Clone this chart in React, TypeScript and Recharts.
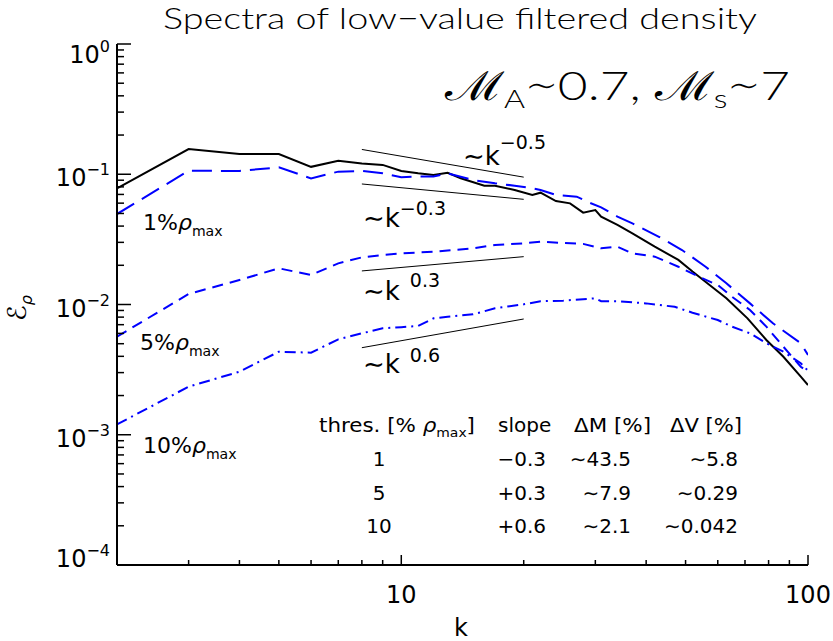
import React from 'react';
import { LineChart, Line, XAxis, YAxis } from 'recharts';

// ---------- data ----------
const kAll = [2, 3, 4, 5, 6, 7, 8, 9, 10, 11, 12, 13, 14, 16, 17, 19, 21, 22, 24, 26, 28, 30, 31, 34, 37, 42, 48, 52, 58, 63, 71, 79, 87, 96, 100];
const eAll = [0.078, 0.156, 0.143, 0.143, 0.114, 0.127, 0.121, 0.118, 0.106, 0.1017, 0.0987, 0.1027, 0.0931, 0.0817, 0.0817, 0.0757, 0.0693, 0.0722, 0.0623, 0.0598, 0.0507, 0.0531, 0.0472, 0.0408, 0.0352, 0.0278, 0.022, 0.0179, 0.0137, 0.01115, 0.00783, 0.00534, 0.00397, 0.00279, 0.00241];

const k1 = [2, 3, 4, 5, 6, 7, 8, 9, 10, 11, 12, 13, 15, 17, 19, 21, 22, 24, 27, 29, 31, 34, 37, 43, 49, 56, 63, 72, 82, 96, 100];
const e1 = [0.0495, 0.1064, 0.106, 0.113, 0.093, 0.1047, 0.106, 0.1017, 0.0948, 0.096, 0.096, 0.1017, 0.0903, 0.0852, 0.0817, 0.078, 0.0757, 0.0693, 0.0673, 0.0605, 0.0557, 0.0472, 0.042, 0.0331, 0.0262, 0.0195, 0.01455, 0.0102, 0.00717, 0.00504, 0.0041];

const k5 = [2, 3, 4, 5, 6, 7, 8, 9, 10, 12, 15, 17, 20, 22, 25, 28, 31, 34, 37, 42, 48, 54, 60, 65, 72, 79, 87, 96, 100];
const e5 = [0.00566, 0.01204, 0.01542, 0.01896, 0.01684, 0.0207, 0.023, 0.024, 0.0247, 0.0254, 0.027, 0.0286, 0.0295, 0.0303, 0.0297, 0.0292, 0.027, 0.0278, 0.0247, 0.0233, 0.0195, 0.0163, 0.0141, 0.01148, 0.00908, 0.00676, 0.00474, 0.00333, 0.00303];

const k10 = [2, 3, 4, 5, 6, 7, 8, 9, 10, 11, 12, 13, 15, 17, 20, 22, 25, 30, 31, 34, 40, 47, 52, 60, 65, 72, 79, 87, 96, 100];
const e10 = [0.0012, 0.00234, 0.00305, 0.00434, 0.00427, 0.0054, 0.00601, 0.00656, 0.0067, 0.00684, 0.00783, 0.00806, 0.0084, 0.00935, 0.01003, 0.0106, 0.0107, 0.01115, 0.0106, 0.0106, 0.0102, 0.0096, 0.00865, 0.0076, 0.00676, 0.00601, 0.00504, 0.00434, 0.00354, 0.0031];

// reference power laws (drawn between k = 8 and k = 20)
const kRef = [8, 20];
const refM05 = [0.155, 0.095];
const refM03 = [0.0842, 0.0642];
const refP03 = [0.0181, 0.0233];
const refP06 = [0.00466, 0.00774];

// ---------- ticks ----------
const xMajor = [10, 100];
const xMajorLabels = ['10', '100'];
const xMinor = [2, 3, 4, 5, 6, 7, 8, 9, 20, 30, 40, 50, 60, 70, 80, 90];
const yMajor = [0.0001, 0.001, 0.01, 0.1, 1];
const yMajorExp = ['\u22124', '\u22123', '\u22122', '\u22121', '0'];
const yMinor = [
  0.0002, 0.0003, 0.0004, 0.0005, 0.0006, 0.0007, 0.0008, 0.0009,
  0.002, 0.003, 0.004, 0.005, 0.006, 0.007, 0.008, 0.009,
  0.02, 0.03, 0.04, 0.05, 0.06, 0.07, 0.08, 0.09,
  0.2, 0.3, 0.4, 0.5, 0.6, 0.7, 0.8, 0.9,
];

// table text
const tableHeads = ['slope', '\u0394M [%]', '\u0394V [%]'];
const tableThres = ['1', '5', '10'];
const tableSlope = ['\u22120.3', '+0.3', '+0.6'];
const tableDM = ['\u223c43.5', '\u223c7.9', '\u223c2.1'];
const tableDV = ['\u223c5.8', '\u223c0.29', '\u223c0.042'];

const FONT = '"DejaVu Sans", sans-serif';
const THIN = 'Lato, "DejaVu Sans", sans-serif';
const BLUE = '#0000ff';

type Row = { k: number; [key: string]: number | undefined };
function buildTable(): Row[] {
  const series: [string, number[], number[]][] = [
    ['all', kAll, eAll],
    ['p1', k1, e1],
    ['p5', k5, e5],
    ['p10', k10, e10],
    ['rm05', kRef, refM05],
    ['rm03', kRef, refM03],
    ['rp03', kRef, refP03],
    ['rp06', kRef, refP06],
  ];
  const map = new Map<number, Row>();
  for (const [key, ks, vs] of series) {
    ks.forEach((k, i) => {
      if (!map.has(k)) map.set(k, { k });
      (map.get(k) as Row)[key] = vs[i];
    });
  }
  return Array.from(map.values()).sort((a, b) => a.k - b.k);
}
const table = buildTable();

const idxOf = (v: number, arr: number[]) => arr.findIndex((m) => Math.abs(m - v) / m < 1e-6);

const BottomTick = (props: any) => {
  const { x, y, payload } = props;
  const i = idxOf(payload.value, xMajor);
  const major = i >= 0;
  return (
    <g>
      <line x1={x} x2={x} y1={y} y2={y - (major ? 10 : 5)} stroke="#000" strokeWidth={1.5} />
      {major && (
        <text x={x} y={y + 38} textAnchor="middle" fontSize={24} fontFamily={FONT} fill="#000">
          {xMajorLabels[i]}
        </text>
      )}
    </g>
  );
};
const TopTick = (props: any) => {
  const { x, y, payload } = props;
  const major = idxOf(payload.value, xMajor) >= 0;
  return <line x1={x} x2={x} y1={y} y2={y + (major ? 10 : 5)} stroke="#000" strokeWidth={1.5} />;
};
const LeftTick = (props: any) => {
  const { x, y, payload } = props;
  const i = idxOf(payload.value, yMajor);
  const major = i >= 0;
  let dy = 12;
  if (payload.value === 1) dy = 19;
  if (i === 0) dy = 2;
  return (
    <g>
      <line x1={x} x2={x + (major ? 14 : 7)} y1={y} y2={y} stroke="#000" strokeWidth={1.5} />
      {major && (
        <text x={x - 7} y={y + dy} textAnchor="end" fontSize={24} fontFamily={FONT} fill="#000">
          10
          <tspan fontSize={16} dy={-11}>
            {yMajorExp[i]}
          </tspan>
        </text>
      )}
    </g>
  );
};
const RightTick = (props: any) => {
  const { x, y, payload } = props;
  const major = idxOf(payload.value, yMajor) >= 0;
  return <line x1={x} x2={x - (major ? 14 : 7)} y1={y} y2={y} stroke="#000" strokeWidth={1.5} />;
};

const Sup = ({ x, y, base, sup, size, supSize, supDy, gap = 0 }: any) => (
  <text x={x} y={y} fontSize={size} fontFamily={FONT} fill="#000">
    {base}
    <tspan dx={gap} dy={supDy} fontSize={supSize}>
      {sup}
    </tspan>
  </text>
);

const RhoMax = ({ x, y, pre, size = 22 }: any) => (
  <text x={x} y={y} fontSize={size} fontFamily={FONT} fill="#000">
    {pre}
    <tspan fontStyle="italic">{'\u03c1'}</tspan>
    <tspan fontSize={size * 0.64} dy={size * 0.28}>
      max
    </tspan>
  </text>
);

export default function App() {
  const xTicks = [...xMinor, ...xMajor].sort((a, b) => a - b);
  const yTicks = [...yMinor, ...yMajor].sort((a, b) => a - b);
  const colX = [379, 546, 631, 738];
  const rowY = [466, 500, 533];
  return (
    <div style={{ position: 'absolute', left: 0, top: 0, width: 833, height: 641, background: '#fff' }}>
      <LineChart width={833} height={641} data={table} margin={{ top: 44, right: 25, bottom: 46, left: 57 }}>
        <XAxis
          xAxisId="b"
          dataKey="k"
          type="number"
          scale="log"
          domain={[2, 100]}
          allowDataOverflow
          ticks={xTicks}
          interval={0}
          tickSize={0}
          tickMargin={0}
          height={30}
          tick={<BottomTick />}
          axisLine={{ stroke: '#000', strokeWidth: 2 }}
          tickLine={false}
        />
        <XAxis
          xAxisId="t"
          orientation="top"
          dataKey="k"
          type="number"
          scale="log"
          domain={[2, 100]}
          allowDataOverflow
          ticks={xTicks}
          interval={0}
          tickSize={0}
          tickMargin={0}
          height={0}
          tick={<TopTick />}
          axisLine={{ stroke: '#000', strokeWidth: 2 }}
          tickLine={false}
        />
        <YAxis
          yAxisId="l"
          type="number"
          scale="log"
          domain={[0.0001, 1]}
          allowDataOverflow
          ticks={yTicks}
          interval={0}
          tickSize={0}
          tickMargin={0}
          width={60}
          tick={<LeftTick />}
          axisLine={{ stroke: '#000', strokeWidth: 2 }}
          tickLine={false}
        />
        <YAxis
          yAxisId="r"
          orientation="right"
          type="number"
          scale="log"
          domain={[0.0001, 1]}
          allowDataOverflow
          ticks={yTicks}
          interval={0}
          tickSize={0}
          tickMargin={0}
          width={0}
          tick={<RightTick />}
          axisLine={{ stroke: '#000', strokeWidth: 2 }}
          tickLine={false}
        />
        <Line xAxisId="b" yAxisId="l" dataKey="all" stroke="#000" strokeWidth={2} dot={false} activeDot={false} connectNulls isAnimationActive={false} />
        <Line xAxisId="b" yAxisId="l" dataKey="p1" stroke={BLUE} strokeWidth={2} strokeDasharray="20 9" dot={false} activeDot={false} connectNulls isAnimationActive={false} />
        <Line xAxisId="b" yAxisId="l" dataKey="p5" stroke={BLUE} strokeWidth={2} strokeDasharray="11 7" dot={false} activeDot={false} connectNulls isAnimationActive={false} />
        <Line xAxisId="b" yAxisId="l" dataKey="p10" stroke={BLUE} strokeWidth={2} strokeDasharray="11 5 2 5" dot={false} activeDot={false} connectNulls isAnimationActive={false} />
        <Line xAxisId="b" yAxisId="l" dataKey="rm05" stroke="#000" strokeWidth={1} dot={false} activeDot={false} connectNulls isAnimationActive={false} />
        <Line xAxisId="b" yAxisId="l" dataKey="rm03" stroke="#000" strokeWidth={1} dot={false} activeDot={false} connectNulls isAnimationActive={false} />
        <Line xAxisId="b" yAxisId="l" dataKey="rp03" stroke="#000" strokeWidth={1} dot={false} activeDot={false} connectNulls isAnimationActive={false} />
        <Line xAxisId="b" yAxisId="l" dataKey="rp06" stroke="#000" strokeWidth={1} dot={false} activeDot={false} connectNulls isAnimationActive={false} />
      </LineChart>
      <svg width={833} height={641} style={{ position: 'absolute', left: 0, top: 0, pointerEvents: 'none' }}>
        <text x={163} y={28.5} fontSize={29} fontWeight={300} fontFamily={THIN} fill="#000" textLength={594} lengthAdjust="spacingAndGlyphs">
          Spectra of low{'\u2212'}value filtered density
        </text>
        <text x={445} y={100} fontSize={40} fontWeight={300} fontFamily={THIN} fill="#000" textLength={345} lengthAdjust="spacingAndGlyphs">
          {'\u2133'}
          <tspan fontSize={25} dy={8}>A</tspan>
          <tspan dy={-8}>{'\u223c'}0.7, {'\u2133'}</tspan>
          <tspan fontSize={25} dy={8}>s</tspan>
          <tspan dy={-8}>{'\u223c'}7</tspan>
        </text>
        <text transform="translate(26,308) rotate(-90)" textAnchor="middle" fontSize={26} fontFamily={FONT} fill="#000">
          {'\u2130'}
          <tspan fontSize={16} dy={6} fontStyle="italic">{'\u03c1'}</tspan>
        </text>
        <text x={461} y={636} textAnchor="middle" fontSize={24} fontFamily={FONT} fill="#000">k</text>

        <Sup x={463} y={165} base={'\u223ck'} sup={'\u22120.5'} size={26} supSize={19} supDy={-16} />
        <Sup x={363} y={227} base={'\u223ck'} sup={'\u22120.3'} size={26} supSize={19} supDy={-12} />
        <Sup x={363} y={300} base={'\u223ck'} sup={'0.3'} size={26} supSize={19} supDy={-13} gap={10} />
        <Sup x={363} y={373} base={'\u223ck'} sup={'0.6'} size={26} supSize={19} supDy={-11} gap={10} />

        <RhoMax x={143} y={230} pre="1%" />
        <RhoMax x={140} y={350} pre="5%" />
        <RhoMax x={143} y={453} pre="10%" />

        <text x={319} y={432} fontSize={20} fontFamily={FONT} fill="#000" textLength={156} lengthAdjust="spacingAndGlyphs">
          thres. [% <tspan fontStyle="italic">{'\u03c1'}</tspan>
          <tspan fontSize={13} dy={5}>max</tspan>
          <tspan dy={-5}>]</tspan>
        </text>
        <text x={498} y={432} fontSize={20} fontFamily={FONT} fill="#000">{tableHeads[0]}</text>
        <text x={574} y={432} fontSize={20} fontFamily={FONT} fill="#000" textLength={77} lengthAdjust="spacingAndGlyphs">{tableHeads[1]}</text>
        <text x={670} y={432} fontSize={20} fontFamily={FONT} fill="#000" textLength={72} lengthAdjust="spacingAndGlyphs">{tableHeads[2]}</text>
        {tableThres.map((t, i) => (
          <g key={i}>
            <text x={colX[0]} y={rowY[i]} textAnchor="middle" fontSize={20} fontFamily={FONT} fill="#000">{t}</text>
            <text x={colX[1]} y={rowY[i]} textAnchor="end" fontSize={20} fontFamily={FONT} fill="#000">{tableSlope[i]}</text>
            <text x={colX[2]} y={rowY[i]} textAnchor="end" fontSize={20} fontFamily={FONT} fill="#000">{tableDM[i]}</text>
            <text x={colX[3]} y={rowY[i]} textAnchor="end" fontSize={20} fontFamily={FONT} fill="#000">{tableDV[i]}</text>
          </g>
        ))}
      </svg>
    </div>
  );
}
